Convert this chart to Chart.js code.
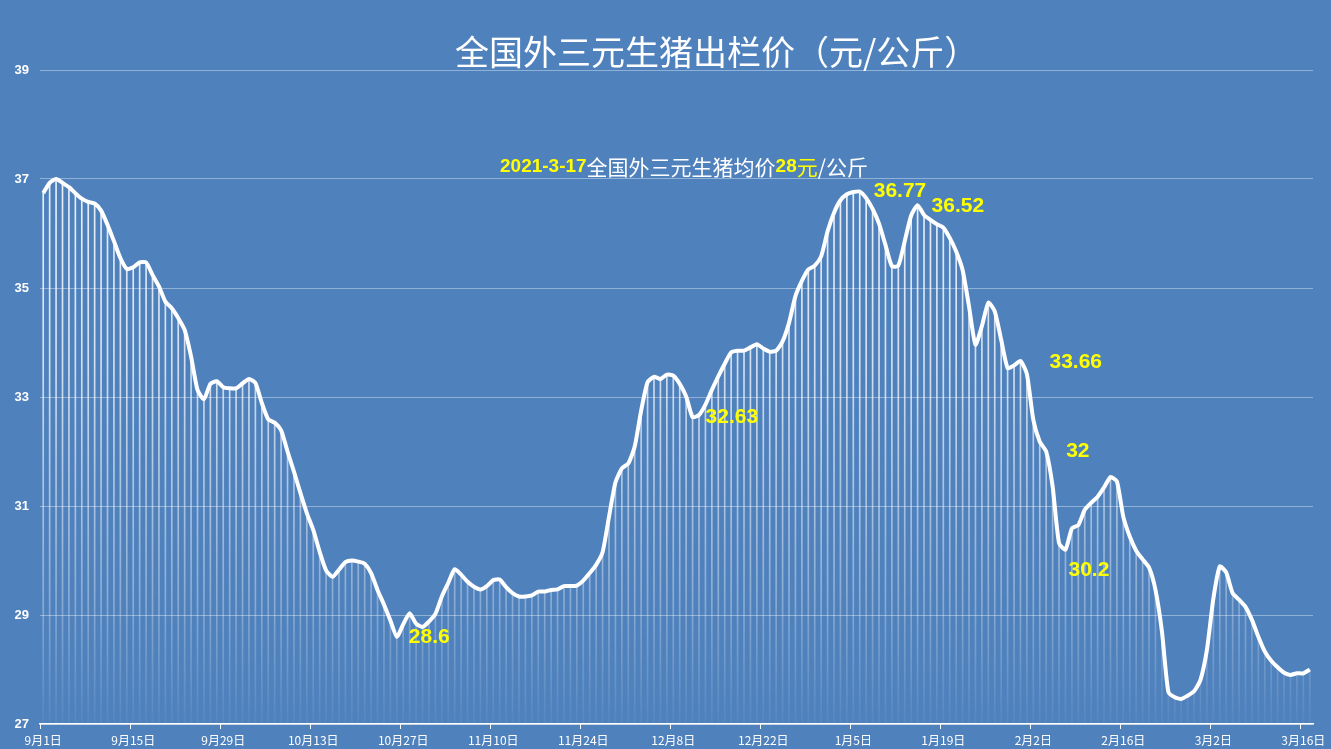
<!DOCTYPE html>
<html>
<head>
<meta charset="utf-8">
<script src="https://cdn.jsdelivr.net/npm/chart.js@4.4.0/dist/chart.umd.min.js"></script>
<style>
  html, body { margin: 0; padding: 0; background: #4F81BD; }
  #wrap { width: 1331px; height: 749px; }
</style>
</head>
<body>
<div id="wrap"><canvas id="priceChart" width="1331" height="749"></canvas></div>
<script>
// axis tick labels, one every 14 days
var tickLabels = ['9月1日', '9月15日', '9月29日', '10月13日', '10月27日', '11月10日', '11月24日',
  '12月8日', '12月22日', '1月5日', '1月19日', '2月2日', '2月16日', '3月2日', '3月16日'];

// daily price, 2020-09-01 .. 2021-03-17 (元/公斤)
var prices = [
  36.74, 36.93, 37.00, 36.93, 36.85, 36.74, 36.64, 36.58, 36.55, 36.42,
  36.16, 35.86, 35.55, 35.35, 35.38, 35.47, 35.47, 35.24, 35.03, 34.75,
  34.63, 34.45, 34.23, 33.74, 33.13, 32.96, 33.24, 33.29, 33.18, 33.16,
  33.16, 33.25, 33.33, 33.26, 32.89, 32.59, 32.53, 32.39, 32.00, 31.63,
  31.24, 30.87, 30.56, 30.16, 29.82, 29.70, 29.83, 29.97, 30.00, 29.98,
  29.94, 29.77, 29.46, 29.19, 28.90, 28.6, 28.83, 29.03, 28.84, 28.78,
  28.88, 29.02, 29.34, 29.59, 29.84, 29.74, 29.61, 29.52, 29.47, 29.53,
  29.64, 29.65, 29.51, 29.40, 29.34, 29.34, 29.36, 29.43, 29.43, 29.46,
  29.47, 29.53, 29.53, 29.54, 29.63, 29.77, 29.92, 30.15, 30.80, 31.43,
  31.69, 31.78, 32.09, 32.75, 33.27, 33.37, 33.33, 33.41, 33.39, 33.24,
  33.01, 32.63, 32.67, 32.86, 33.13, 33.38, 33.61, 33.82, 33.85, 33.85,
  33.91, 33.97, 33.89, 33.83, 33.85, 34.02, 34.36, 34.85, 35.13, 35.34,
  35.41, 35.58, 36.04, 36.38, 36.61, 36.72, 36.76, 36.77, 36.65, 36.45,
  36.18, 35.79, 35.40, 35.41, 35.86, 36.33, 36.52, 36.34, 36.25, 36.17,
  36.11, 35.92, 35.67, 35.33, 34.66, 33.96, 34.30, 34.73, 34.57, 34.05,
  33.53, 33.58, 33.66, 33.42, 32.58, 32.18, 32, 31.36, 30.32, 30.2,
  30.59, 30.65, 30.93, 31.06, 31.17, 31.34, 31.53, 31.45, 30.80, 30.44,
  30.18, 30.02, 29.87, 29.46, 28.70, 27.59, 27.49, 27.46, 27.52, 27.60,
  27.81, 28.36, 29.30, 29.89, 29.78, 29.40, 29.28, 29.15, 28.91, 28.60,
  28.33, 28.16, 28.04, 27.94, 27.90, 27.93, 27.93, 28.00
];

// points that carry a value label
var labelPoints = [55, 101, 127, 136, 152, 156, 159];
var labelOffsets = [[12, 0], [13, 0], [14, 0], [14, 1], [29, 1], [20, 0], [3, 21]];

var days = [];
var d = new Date(2020, 8, 1);
for (var i = 0; i < prices.length; i++) {
  days.push((d.getMonth() + 1) + '月' + d.getDate() + '日');
  d.setDate(d.getDate() + 1);
}

var BG = '#4F81BD';
var YELLOW = '#FFFF00';
var CJK = '"Noto Sans CJK SC", "Noto Sans", sans-serif';
var LAT = '"Liberation Sans", Arial, sans-serif';

var textPlugin = {
  id: 'texts',
  beforeDraw: function(chart) {
    var c = chart.ctx;
    c.save();
    c.fillStyle = BG;
    c.fillRect(0, 0, chart.width, chart.height);
    c.restore();
  },
  afterDatasetsDraw: function(chart) {
    var c = chart.ctx;
    c.save();
    c.textBaseline = 'middle';
    c.textAlign = 'left';

    c.fillStyle = '#fff';
    c.font = '34px ' + CJK;
    c.fillText('全国外三元生猪出栏价（元/公斤）', 455, 52);

    var parts = [
      ['2021-3-17', YELLOW, 'bold 19px ' + LAT],
      ['全国外三元生猪均价', '#fff', '21px ' + CJK],
      ['28', YELLOW, 'bold 19px ' + LAT],
      ['元', YELLOW, '21px ' + CJK],
      ['/公斤', '#fff', '21px ' + CJK]
    ];
    var x = 500;
    for (var p = 0; p < parts.length; p++) {
      c.font = parts[p][2];
      c.fillStyle = parts[p][1];
      c.fillText(parts[p][0], x, 167);
      x += c.measureText(parts[p][0]).width;
    }

    var meta = chart.getDatasetMeta(0);
    c.font = 'bold 21px ' + LAT;
    c.fillStyle = YELLOW;
    for (var k = 0; k < labelPoints.length; k++) {
      var pt = meta.data[labelPoints[k]];
      c.fillText(String(prices[labelPoints[k]]), pt.x + labelOffsets[k][0], pt.y + labelOffsets[k][1]);
    }
    c.restore();
  }
};

var ctx = document.getElementById('priceChart').getContext('2d');

function dropGradient(context) {
  var area = context.chart.chartArea;
  if (!area) return 'rgba(255,255,255,0.6)';
  var g = context.chart.ctx.createLinearGradient(0, area.top, 0, area.bottom);
  g.addColorStop(0, 'rgba(255,255,255,0.95)');
  g.addColorStop(0.45, 'rgba(255,255,255,0.75)');
  g.addColorStop(0.8, 'rgba(255,255,255,0.35)');
  g.addColorStop(1, 'rgba(255,255,255,0.04)');
  return g;
}

var chart = new Chart(ctx, {
  type: 'bar',
  data: {
    labels: days,
    datasets: [{
      type: 'line',
      label: '出栏价',
      data: prices,
      borderColor: '#fff',
      borderWidth: 4,
      pointRadius: 0,
      tension: 0.2,
      order: 0
    }, {
      type: 'bar',
      label: 'drop',
      data: prices,
      base: 27,
      backgroundColor: dropGradient,
      barThickness: 1,
      order: 1
    }]
  },
  options: {
    responsive: false,
    animation: false,
    layout: { padding: { top: 70, right: 18, left: 0, bottom: 0 } },
    plugins: {
      legend: { display: false },
      tooltip: { enabled: false }
    },
    scales: {
      x: {
        type: 'category',
        offset: true,
        border: { color: '#fff', width: 1.5 },
        grid: {
          offset: true,
          drawOnChartArea: false,
          tickLength: 5,
          tickColor: function(c) { return c.index % 14 === 0 ? '#fff' : 'rgba(0,0,0,0)'; }
        },
        ticks: {
          autoSkip: false,
          maxRotation: 0,
          padding: 4,
          color: '#fff',
          font: { family: CJK, size: 12 },
          callback: function(v, i) { return i % 14 === 0 ? tickLabels[i / 14] : ''; }
        },
        afterFit: function(s) { s.height = 25; }
      },
      y: {
        min: 27,
        max: 39,
        border: { display: false },
        grid: { color: 'rgba(255,255,255,0.38)', drawTicks: false },
        ticks: {
          stepSize: 2,
          padding: 11,
          color: '#fff',
          font: { family: LAT, size: 13, weight: 'bold' }
        },
        afterFit: function(s) { s.width = 40; }
      }
    }
  },
  plugins: [textPlugin]
});
</script>
</body>
</html>
